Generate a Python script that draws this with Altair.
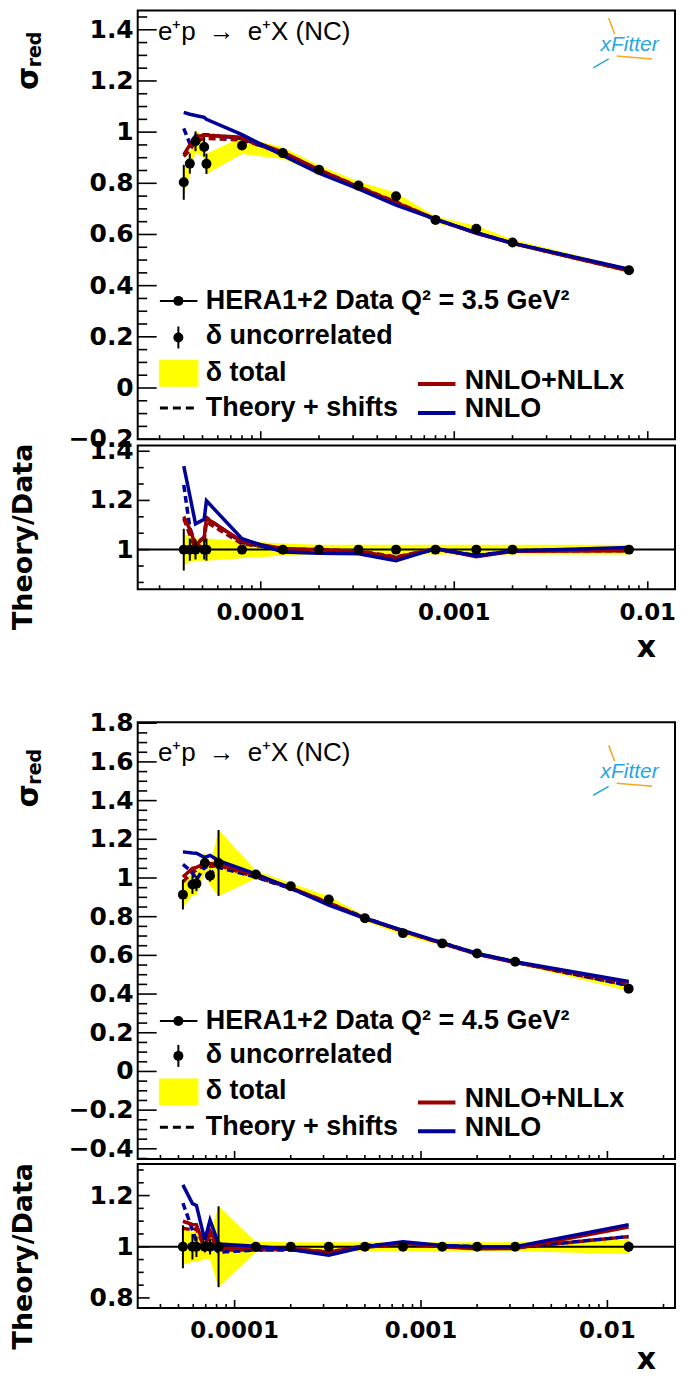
import altair as alt
import numpy as np
import pandas as pd

# ---------------- data ----------------
# Q^2 = 3.5 GeV^2
x_a = [4.0e-5, 4.3e-5, 4.6e-5, 5.1e-5, 5.24e-5, 8.0e-5, 1.3e-4, 2.0e-4, 3.2e-4, 5.0e-4, 8.0e-4, 1.3e-3, 2.0e-3, 8.0e-3]
sigma_a = [0.804, 0.877, 0.964, 0.942, 0.876, 0.948, 0.918, 0.853, 0.791, 0.749, 0.657, 0.622, 0.569, 0.460]
unc_a = [0.085, 0.045, 0.040, 0.040, 0.045, 0.012, 0.010, 0.010, 0.010, 0.012, 0.010, 0.012, 0.012, 0.012]
tot_a = [0.065, 0.050, 0.045, 0.045, 0.045, 0.035, 0.025, 0.020, 0.020, 0.020, 0.020, 0.020, 0.020, 0.020]
nnlo_a = [1.077, 1.070, 1.065, 1.058, 1.050, 0.990, 0.909, 0.840, 0.778, 0.715, 0.660, 0.606, 0.566, 0.464]
nllx_a = [0.912, 0.950, 0.982, 0.988, 0.988, 0.980, 0.922, 0.853, 0.785, 0.725, 0.660, 0.604, 0.565, 0.458]
nnlo_sh_a = [1.015, 0.955, 0.985, 0.990, 0.990, 0.975, 0.915, 0.850, 0.785, 0.722, 0.658, 0.607, 0.566, 0.462]
nllx_sh_a = [0.905, 0.930, 0.965, 0.975, 0.975, 0.970, 0.920, 0.853, 0.787, 0.727, 0.659, 0.606, 0.566, 0.458]

# Q^2 = 4.5 GeV^2
x_b = [5.28e-5, 5.94e-5, 6.24e-5, 6.92e-5, 7.38e-5, 8.2e-5, 1.3e-4, 2.0e-4, 3.2e-4, 5.0e-4, 8.0e-4, 1.3e-3, 2.0e-3, 3.2e-3, 1.3e-2]
sigma_b = [0.914, 0.966, 0.971, 1.078, 1.012, 1.078, 1.018, 0.957, 0.889, 0.792, 0.715, 0.662, 0.610, 0.567, 0.428]
unc_b = [0.084, 0.050, 0.040, 0.020, 0.030, 0.158, 0.010, 0.010, 0.010, 0.012, 0.012, 0.012, 0.012, 0.012, 0.020]
tot_b = [0.070, 0.060, 0.060, 0.050, 0.050, 0.160, 0.020, 0.018, 0.018, 0.018, 0.018, 0.018, 0.018, 0.018, 0.028]
nnlo_b = [1.135, 1.129, 1.128, 1.106, 1.117, 1.090, 1.020, 0.947, 0.860, 0.792, 0.729, 0.665, 0.610, 0.567, 0.465]
nllx_b = [1.005, 1.050, 1.055, 1.075, 1.075, 1.070, 1.015, 0.950, 0.870, 0.790, 0.725, 0.662, 0.605, 0.563, 0.461]
nnlo_sh_b = [1.070, 1.030, 0.990, 1.060, 1.020, 1.055, 1.005, 0.945, 0.870, 0.795, 0.725, 0.665, 0.610, 0.565, 0.445]
nllx_sh_b = [0.980, 1.030, 1.040, 1.070, 1.060, 1.065, 1.005, 0.948, 0.872, 0.792, 0.725, 0.662, 0.607, 0.565, 0.445]

# axis tick values and labels
x_major = [1e-4, 1e-3, 1e-2]
x_major_lab = ["0.0001", "0.001", "0.01"]
y_main_a = [-0.2, 0, 0.2, 0.4, 0.6, 0.8, 1, 1.2, 1.4]
y_main_a_lab = ["−0.2", "0", "0.2", "0.4", "0.6", "0.8", "1", "1.2", "1.4"]
y_main_b = [-0.4, -0.2, 0, 0.2, 0.4, 0.6, 0.8, 1, 1.2, 1.4, 1.6, 1.8]
y_main_b_lab = ["−0.4", "−0.2", "0", "0.2", "0.4", "0.6", "0.8", "1", "1.2", "1.4", "1.6", "1.8"]
y_ratio_a = [1, 1.2, 1.4]
y_ratio_a_lab = ["1", "1.2", "1.4"]
y_ratio_b = [0.8, 1, 1.2]
y_ratio_b_lab = ["0.8", "1", "1.2"]

# ---------------- style / layout ----------------
W = 538.5          # plot width (px) - keeps the whole svg inside the 669 px page body
K = W / 544.5      # horizontal factor applied to in-plot decoration positions
HT = 1301          # full drawing height (px): four stacked panels
RED = "#990000"
BLUE = "#000099"
YEL = "#ffff00"
AXF = "DejaVu Sans"
TXF = "Liberation Sans"
ONE = pd.DataFrame({"d": [0]})


def build_df(x, s, unc, tot, nnlo, nllx, nnlo_s, nllx_s):
    x = np.array(x); s = np.array(s); unc = np.array(unc); tot = np.array(tot)
    d = pd.DataFrame({"x": x, "s": s,
                      "ulo": s * (1 - unc), "uhi": s * (1 + unc),
                      "tlo": s * (1 - tot), "thi": s * (1 + tot),
                      "nnlo": nnlo, "nllx": nllx, "nnlo_s": nnlo_s, "nllx_s": nllx_s,
                      "r_ulo": 1 - unc, "r_uhi": 1 + unc,
                      "r_tlo": 1 - tot, "r_thi": 1 + tot, "one": np.ones(len(x))})
    for c in ["nnlo", "nllx", "nnlo_s", "nllx_s"]:
        d["r_" + c] = np.array(d[c]) / s
    return d


def inv_lin(p, dom, rng):
    return dom[0] + (p - rng[0]) * (dom[1] - dom[0]) / (rng[1] - rng[0])


def inv_log(p, rng):
    l0, l1 = -4.0, -2.0
    return 10 ** (l0 + (p - rng[0]) * (l1 - l0) / (rng[1] - rng[0]))


def minor_linear(lo, hi, step, majors):
    out = []
    k = int(np.ceil(lo / step - 1e-9))
    while k * step <= hi + 1e-9:
        v = round(k * step, 6)
        if all(abs(v - m) > 1e-6 for m in majors):
            out.append(v)
        k += 1
    return out


def minor_log(lo, hi):
    out = []
    for e in range(-6, 0):
        for m in range(2, 10):
            v = m * 10.0 ** e
            if lo <= v <= hi:
                out.append(v)
    return out


def txt(s, x, y, size, weight="bold", font=TXF, align="left", baseline="alphabetic",
        angle=None, color="black", style=None):
    kw = dict(text=s, font=font, fontSize=size, fontWeight=weight, align=align,
              baseline=baseline, color=color)
    if angle is not None:
        kw["angle"] = angle
    if style is not None:
        kw["fontStyle"] = style
    return alt.Chart(ONE).mark_text(**kw).encode(x=alt.value(x), y=alt.value(y))


def seg(x1, y1, x2, y2, color, width, dash=None):
    kw = dict(color=color, strokeWidth=width)
    if dash is not None:
        kw["strokeDash"] = dash
    return alt.Chart(ONE).mark_rule(**kw).encode(
        x=alt.value(x1), x2=alt.value(x2), y=alt.value(y1), y2=alt.value(y2))


def panel(df, top, bot, ydom, yrng, ymaj, ylab, ystep, xrng, ylen, ratio, lab_y=None):
    xs = alt.Scale(type="log", domain=[1e-4, 1e-2], range=xrng, nice=False)
    ys = alt.Scale(domain=ydom, range=yrng, nice=False, zero=False)
    X = lambda f: alt.X(f, type="quantitative", scale=xs, axis=None)
    Y = lambda f: alt.Y(f, type="quantitative", scale=ys, axis=None)
    p = "r_" if ratio else ""
    base = alt.Chart(df)
    L = [base.mark_area(color=YEL).encode(x=X("x"), y=Y(p + "tlo"), y2=p + "thi")]
    if ratio:
        L.append(alt.Chart(pd.DataFrame({"v": [1.0]})).mark_rule(color="black", strokeWidth=2).encode(
            y=Y("v"), x=alt.value(0), x2=alt.value(W)))
    for col, colr, dash in [("nllx_s", RED, [7, 4]), ("nnlo_s", BLUE, [7, 4]),
                            ("nllx", RED, None), ("nnlo", BLUE, None)]:
        kw = dict(color=colr, strokeWidth=3.5)
        if dash:
            kw["strokeDash"] = dash
        L.append(base.mark_line(**kw).encode(x=X("x"), y=Y(p + col)))
    L.append(base.mark_rule(color="black", strokeWidth=2).encode(x=X("x"), y=Y(p + "ulo"), y2=p + "uhi"))
    L.append(base.mark_circle(size=100, color="black", opacity=1).encode(
        x=X("x"), y=Y("one" if ratio else "s")))
    # frame
    L.append(alt.Chart(ONE).mark_rect(filled=False, stroke="black", strokeWidth=2).encode(
        x=alt.value(0), x2=alt.value(W), y=alt.value(top), y2=alt.value(bot)))
    # y ticks (inward) and labels
    vlo = inv_lin(bot, ydom, yrng)
    vhi = inv_lin(top, ydom, yrng)
    ymin = minor_linear(vlo, vhi, ystep, ymaj)
    ymaj_in = [v for v in ymaj if vlo - 1e-6 <= v <= vhi + 1e-6]
    L.append(alt.Chart(pd.DataFrame({"v": ymaj_in})).mark_rule(color="black", strokeWidth=1.6).encode(
        y=Y("v"), x=alt.value(0), x2=alt.value(ylen)))
    L.append(alt.Chart(pd.DataFrame({"v": ymin})).mark_rule(color="black", strokeWidth=1.6).encode(
        y=Y("v"), x=alt.value(0), x2=alt.value(ylen / 2)))
    L.append(alt.Chart(pd.DataFrame({"v": ymaj, "t": ylab})).mark_text(
        align="right", baseline="middle", font=AXF, fontSize=25, fontWeight="bold", color="black").encode(
        y=Y("v"), x=alt.value(-4), text="t:N"))
    # x ticks (inward, at the bottom)
    xmin = minor_log(inv_log(0, xrng), inv_log(W, xrng))
    L.append(alt.Chart(pd.DataFrame({"v": x_major})).mark_rule(color="black", strokeWidth=1.6).encode(
        x=X("v"), y=alt.value(bot), y2=alt.value(bot - 8)))
    L.append(alt.Chart(pd.DataFrame({"v": xmin})).mark_rule(color="black", strokeWidth=1.6).encode(
        x=X("v"), y=alt.value(bot), y2=alt.value(bot - 4)))
    if ratio:
        L.append(alt.Chart(pd.DataFrame({"v": x_major, "t": x_major_lab})).mark_text(
            align="center", baseline="middle", font=AXF, fontSize=23, fontWeight="bold", color="black").encode(
            x=X("v"), y=alt.value(lab_y), text="t:N"))
    return L


def legend(q2, leg):
    L = []
    L.append(seg(22.5 * K, leg["data"], 60.5 * K, leg["data"], "black", 2))
    L.append(alt.Chart(ONE).mark_circle(size=100, color="black", opacity=1).encode(
        x=alt.value(41.2 * K), y=alt.value(leg["data"])))
    L.append(txt("HERA1+2 Data Q² = " + q2 + " GeV²", 69 * K, leg["data"] + 8, 27))
    L.append(seg(41.2 * K, leg["unc"] - 11, 41.2 * K, leg["unc"] + 11, "black", 2))
    L.append(alt.Chart(ONE).mark_circle(size=100, color="black", opacity=1).encode(
        x=alt.value(41.2 * K), y=alt.value(leg["unc"])))
    L.append(txt("δ uncorrelated", 69 * K, leg["unc"] + 7, 27))
    L.append(alt.Chart(ONE).mark_rect(color=YEL).encode(
        x=alt.value(21.5 * K), x2=alt.value(61.5 * K), y=alt.value(leg["box"]), y2=alt.value(leg["box"] + 27)))
    L.append(txt("δ total", 69 * K, leg["box"] + 21, 27))
    L.append(seg(22.5 * K, leg["dash"], 60.5 * K, leg["dash"], "black", 3, [8, 5]))
    L.append(txt("Theory + shifts", 69 * K, leg["dash"] + 8, 27))
    L.append(seg(284 * K, leg["red"], 322 * K, leg["red"], RED, 4))
    L.append(txt("NNLO+NLLx", 331.5 * K, leg["red"] + 5, 27))
    L.append(seg(284 * K, leg["blue"], 322 * K, leg["blue"], BLUE, 4))
    L.append(txt("NNLO", 331.5 * K, leg["blue"] + 4.5, 27))
    L.append(txt("e⁺p\u2002→\u2002e⁺X (NC)", 20.5 * K, leg["proc"], 26, weight="normal"))
    lx, ly = leg["logo"][0] * K, leg["logo"][1]
    L.append(seg(lx - 21, ly - 27, lx - 15, ly - 11, "#f5a623", 1.5))
    L.append(seg(lx - 36.5, ly + 23, lx - 21, ly + 14, "#29a6e0", 1.5))
    L.append(seg(lx - 13, ly + 11, lx + 22.5, ly + 14, "#f5a623", 1.5))
    L.append(txt("xFitter", lx, ly, 21, weight="normal", align="center", baseline="middle",
                 color="#29a6e0", style="italic"))
    L.append(txt("σ", -109, leg["sig"], 30, font=AXF, align="center", baseline="middle", angle=270))
    L.append(txt("red", -102.5, leg["sig"] - 29, 19, font=AXF, align="center", baseline="middle", angle=270))
    return L


df_a = build_df(x_a, sigma_a, unc_a, tot_a, nnlo_a, nllx_a, nnlo_sh_a, nllx_sh_a)
df_b = build_df(x_b, sigma_b, unc_b, tot_b, nnlo_b, nllx_b, nnlo_sh_b, nllx_sh_b)

# pixel ranges of x = 1e-4 .. 1e-2 for the two figures
xr_a = [124.7 * K, 516.9 * K]
xr_b = [98.2 * K, 476.0 * K]

layers = []
# figure 1 : Q2 = 3.5
layers += panel(df_a, 0, 429.6, [-0.2, 1.4], [429.6, 19.3], y_main_a, y_main_a_lab, 0.05, xr_a, 19, False)
layers += panel(df_a, 436, 580, [1.0, 1.4], [540.3, 441.7], y_ratio_a, y_ratio_a_lab, 0.2 / 3, xr_a, 12, True,
                lab_y=603.5)
layers += legend("3.5", dict(data=291, unc=327.7, box=350, dash=398.3, red=374.3, blue=403.3, proc=29.3,
                             logo=(498.5, 34.5), sig=68))
layers.append(txt("Theory/Data", -113.5, 527.5, 27, font=AXF, align="center", baseline="middle", angle=270))
layers.append(txt("x", 515.5 * K, 638.5, 30, font=AXF, align="center", baseline="middle"))
# figure 2 : Q2 = 4.5
layers += panel(df_b, 713.3, 1151, [0.0, 1.8], [1063.3, 714.3], y_main_b, y_main_b_lab, 0.05, xr_b, 19, False)
layers += panel(df_b, 1156, 1300.3, [0.8, 1.2], [1290.3, 1187.7], y_ratio_b, y_ratio_b_lab, 0.05, xr_b, 12, True,
                lab_y=1323.5)
layers += legend("4.5", dict(data=1012.7, unc=1047.7, box=1070.3, dash=1119.3, red=1094.3, blue=1123.3,
                             proc=752, logo=(498.5, 763.5), sig=787))
layers.append(txt("Theory/Data", -113.5, 1248.5, 27, font=AXF, align="center", baseline="middle", angle=270))
layers.append(txt("x", 515.5 * K, 1353, 30, font=AXF, align="center", baseline="middle"))

chart = alt.layer(*layers).resolve_scale(x="independent", y="independent").properties(
    width=W, height=HT,
    padding={"left": 2, "top": 0, "right": 0, "bottom": 0},
    background="white",
).configure_view(strokeWidth=0)

chart.save("out.html", embed_options={"renderer": "svg", "actions": False})
